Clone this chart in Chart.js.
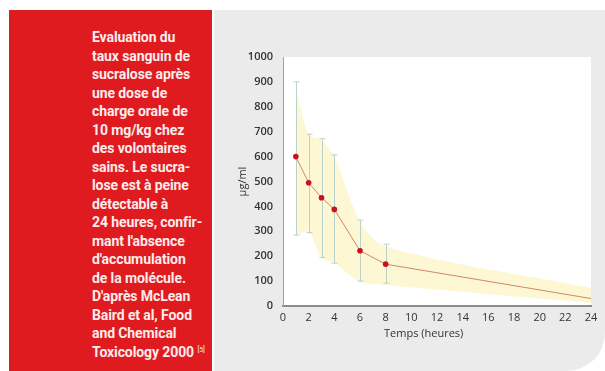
<!doctype html>
<html lang="fr"><head>
<meta charset="utf-8"/>
<title>Sucralose</title>
<script src="https://cdn.jsdelivr.net/npm/chart.js@4.4.6/dist/chart.umd.min.js"></script>
<style>
  *{box-sizing:border-box}
  html,body{margin:0;width:605px;height:371px;overflow:hidden;background:#fff}
  .red{position:absolute;left:9px;top:10px;width:203px;height:361px;background:#df1b20}
  .red p{position:absolute;left:83px;top:18px;margin:0;color:#fcecec;font:700 14px/18.5px Roboto,sans-serif;white-space:nowrap;letter-spacing:-.1px}
  .red sup{font-size:7px;font-weight:400;vertical-align:5px;line-height:0}
  .panel{position:absolute;left:214px;top:10px;width:391px;height:361px;background:#ebebeb;border-bottom-right-radius:38px}
  #c{position:absolute;left:0;top:0}
  .xt{position:absolute;left:170px;top:315px;width:74px;text-align:center;color:#333;font:11px "Open Sans",sans-serif;white-space:nowrap}
</style></head>
<body>
<div class="red"><p>Evaluation du<br>taux sanguin de<br>sucralose après<br>une dose de<br>charge orale de<br>10 mg/kg chez<br>des volontaires<br>sains. Le sucra-<br>lose est à peine<br>détectable à<br>24 heures, confir-<br>mant l'absence<br>d'accumulation<br>de la molécule.<br>D'après McLean<br>Baird et al, Food<br>and Chemical<br>Toxicology 2000 <sup>[5]</sup></p></div>
<div class="panel"><canvas id="c" width="391" height="361"></canvas><div class="xt">Temps (heures)</div></div>
<script>
// values (µg/ml vs hours)
const hours = [1, 2, 3, 4, 6, 8, 24];
const mean = [600, 495, 435, 388, 222, 168, 30];
const errHigh = [900, 690, 672, 607, 345, 248, null];
const errLow = [285, 295, 195, 172, 100, 92, null];
const bandHigh = [870, 690, 667, 600, 339, 238, 72];
const bandLow = [285, 298, 193, 174, 98, 84, 12];
const yTicks = [0, 100, 200, 300, 400, 500, 600, 700, 800, 900, 1000];

const pts = arr => hours.map((h, i) => ({x: h, y: arr[i]}));
const TICK = '#333';

const plotBg = {
  id: 'plotBg',
  beforeDraw(chart){
    const {ctx, chartArea: a} = chart;
    ctx.save(); ctx.fillStyle = '#fff';
    ctx.fillRect(a.left, a.top, a.right - a.left, a.bottom - a.top);
    ctx.restore();
  }
};
const errBars = {
  id: 'errBars',
  beforeDatasetDraw(chart, args){
    if (args.index !== 0) return;
    const {ctx, scales: {x, y}} = chart;
    ctx.save(); ctx.strokeStyle = '#b9d3c9'; ctx.lineWidth = 1;
    hours.forEach((h, i) => {
      if (errHigh[i] == null) return;
      const px = Math.round(x.getPixelForValue(h)) + .5;
      const t = y.getPixelForValue(errHigh[i]), b = y.getPixelForValue(errLow[i]);
      ctx.beginPath();
      ctx.moveTo(px, t); ctx.lineTo(px, b);
      ctx.moveTo(px - 3, t); ctx.lineTo(px + 3, t);
      ctx.moveTo(px - 3, b); ctx.lineTo(px + 3, b);
      ctx.stroke();
    });
    ctx.restore();
  }
};

new Chart(document.getElementById('c'), {
  type: 'line',
  data: {datasets: [
    {data: pts(mean), borderColor: '#d0876c', borderWidth: 1, tension: 0,
     pointRadius: hours.map((h, i) => i < hours.length - 1 ? 2.8 : 0),
     pointBackgroundColor: '#c5121d', pointBorderWidth: 0, fill: false},
    {data: pts(bandHigh), borderWidth: 0, pointRadius: 0, tension: .3,
     backgroundColor: '#fdf7d4', fill: '+1'},
    {data: pts(bandLow), borderWidth: 0, pointRadius: 0, tension: .3, fill: false}
  ]},
  options: {
    responsive: false, animation: false,
    layout: {padding: {top: 47, right: 14, left: 0, bottom: 0}},
    plugins: {legend: {display: false}, tooltip: {enabled: false}},
    scales: {
      x: {type: 'linear', min: 0, max: 24,
        grid: {display: false, drawTicks: false},
        border: {color: '#8c8c8c', width: 2},
        ticks: {stepSize: 2, padding: 5, color: TICK, font: {family: 'Open Sans', size: 11}},
        afterFit: s => { s.height = 65; }},
      y: {min: 0, max: 1000,
        grid: {display: false, drawTicks: false},
        border: {color: '#a0a0a0', width: 1},
        afterBuildTicks: s => { s.ticks = yTicks.map(v => ({value: v})); },
        ticks: {padding: 10, color: TICK, callback: v => String(v),
          font: {family: 'Open Sans', size: 11, weight: '600'}},
        title: {display: true, text: 'µg/ml', color: TICK, padding: {top: 22},
          font: {family: 'Open Sans', size: 11}},
        afterFit: s => { s.width = 69; }}
    }
  },
  plugins: [plotBg, errBars]
});
</script>
</body></html>
